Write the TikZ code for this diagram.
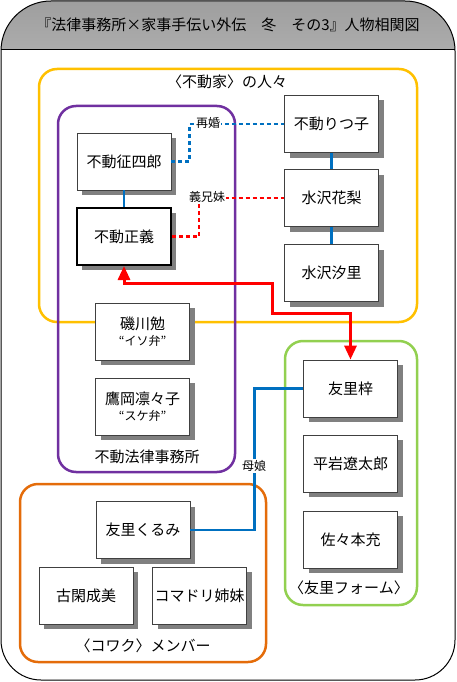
\documentclass[tikz,border=0pt]{standalone}
\usepackage{fontspec}
\setmainfont{Noto Sans CJK JP}
\usepackage{xcolor}
\usetikzlibrary{positioning,arrows.meta,shadows}

\definecolor{famyellow}{HTML}{FFC000}
\definecolor{lawpurple}{HTML}{7030A0}
\definecolor{farmgreen}{HTML}{92D050}
\definecolor{kowakuorange}{HTML}{E46C0A}
\definecolor{tieblue}{HTML}{0070C0}
\definecolor{linkred}{HTML}{FF0000}

\begin{document}
\begin{tikzpicture}[x=1pt,y=-1pt,
	person/.style={draw=black!75, line width=0.8pt, fill=white, minimum width=94pt, minimum height=57pt, inner sep=0pt, align=center, font=\fontsize{15}{18}\selectfont, drop shadow={shadow xshift=5pt, shadow yshift=-5pt, fill=black!50, opacity=1}},
	grouplabel/.style={inner sep=0pt, font=\fontsize{15}{18}\selectfont},
	rellabel/.style={fill=white, inner sep=1pt, font=\fontsize{12}{14}\selectfont},
	frame/.style={line width=2.5pt, rounded corners=18pt},
	bluetie/.style={draw=tieblue, line width=2.8pt},
	bluedash/.style={draw=tieblue, line width=2.8pt, dash pattern=on 4pt off 3pt},
	reddash/.style={draw=linkred, line width=2.8pt, dash pattern=on 4pt off 3pt},
	redlink/.style={draw=linkred, line width=3pt, {Triangle[length=14pt,width=12pt]}-{Triangle[length=14pt,width=12pt]}}]
	\useasboundingbox (0,0) rectangle (456,682);

	% outer frame and header
	\begin{scope}
		\clip (0,0) rectangle (456,50);
		\shade[top color=black!38, bottom color=white] (1,340) [rounded corners=50pt] -- (1,1) -- (455,1) -- (455,340) -- cycle;
	\end{scope}
	\draw[line width=1pt] (1,340) [rounded corners=50pt] -- (1,1) -- (455,1) -- (455,340) [rounded corners=40pt] -- (455,680) -- (1,680) -- cycle;
	\draw[line width=1pt] (1,50) -- (455,50);
	\node[inner sep=0pt, font=\fontsize{15}{18}\selectfont] (title) at (228,25) {『法律事務所×家事手伝い外伝　冬　その3』人物相関図};

	% groups
	\draw[frame, famyellow] (39,69) rectangle (417,322);
	\draw[frame, lawpurple] (58,106) rectangle (235,472);
	\draw[frame, farmgreen] (285,341) rectangle (417,605);
	\draw[frame, kowakuorange] (20,484) rectangle (266,662);
	\node[grouplabel] (fudoke) at (227,82) {〈不動家〉の人々};
	\node[grouplabel] (office) at (147,457) {不動法律事務所};
	\node[grouplabel] (farm) at (349,588) {〈友里フォーム〉};
	\node[grouplabel] (kowaku) at (143,646) {〈コワク〉メンバー};

	% people
	\node[person] (seishiro) at (124,161.5) {不動征四郎};
	\node[person, draw=black, line width=2pt] (masayoshi) at (124,236.5) {不動正義};
	\node[person] (isokawa) at (142.5,331.5) {磯川勉\\[-2pt]{\fontsize{12}{14}\selectfont “イソ弁”}};
	\node[person] (takaoka) at (142.5,406.5) {鷹岡凛々子\\[-2pt]{\fontsize{12}{14}\selectfont “スケ弁”}};
	\node[person] (ritsuko) at (331.5,124) {不動りつ子};
	\node[person] (karin) at (331.5,198) {水沢花梨};
	\node[person] (shiori) at (331.5,273) {水沢汐里};
	\node[person] (azusa) at (350.5,388.5) {友里梓};
	\node[person] (hiraiwa) at (350.5,463.5) {平岩遼太郎};
	\node[person] (sasamoto) at (350.5,539.5) {佐々本充};
	\node[person] (kurumi) at (143,530) {友里くるみ};
	\node[person] (koga) at (86,595.5) {古閑成美};
	\node[person] (komadori) at (199.5,595.5) {コマドリ姉妹};

	% relations
	\draw[bluetie] (seishiro) -- (masayoshi);
	\draw[bluetie] (ritsuko) -- (karin);
	\draw[bluetie] (karin) -- (shiori);
	\draw[bluedash] (seishiro.east) -- ++(18,0) |- (ritsuko.west);
	\draw[reddash] (masayoshi.east) -- ++(27,0) |- (karin.west);
	\draw[redlink] (masayoshi.south) |- (272,283) |- (azusa.north |- 0,313) -- (azusa.north);
	\draw[bluetie] (azusa.west) -- ++(-49,0) |- (kurumi.east);
	\node[rellabel] (saikon) at (208,123) {再婚};
	\node[rellabel] (gikyomai) at (207,197) {義兄妹};
	\node[rellabel] (boujo) at (254,466) {母娘};

\end{tikzpicture}
\end{document}
